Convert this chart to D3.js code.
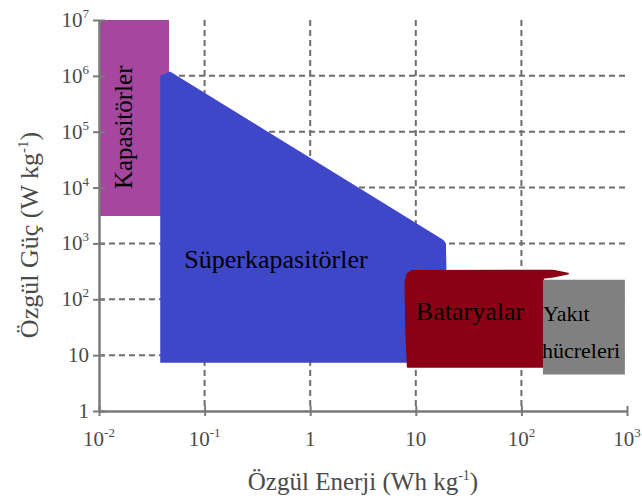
<!DOCTYPE html>
<html>
<head>
<meta charset="utf-8">
<script src="https://cdn.jsdelivr.net/npm/d3@7"></script>
<style>
  html, body { margin: 0; padding: 0; background: #fff; }
  svg { display: block; font-family: "Liberation Serif", "Times New Roman", serif; }
</style>
</head>
<body>
<svg id="chart" width="642" height="502"></svg>
<script>
// Ragone diagram: specific power vs specific energy (log-log)
const xTicks = [1e-2, 1e-1, 1, 1e1, 1e2, 1e3];
const xTickLabels = [["10", "-2"], ["10", "-1"], ["1", ""], ["10", ""], ["10", "2"], ["10", "3"]];
const yTicks = [1, 1e1, 1e2, 1e3, 1e4, 1e5, 1e6, 1e7];
const yTickLabels = [["1", ""], ["10", ""], ["10", "2"], ["10", "3"], ["10", "4"], ["10", "5"], ["10", "6"], ["10", "7"]];

// Regions as [energy Wh/kg, power W/kg] outlines
const capacitors = [[0.01, 3100], [0.01, 1e7], [0.046, 1e7], [0.046, 3100]];
const supercapacitors = [[0.038, 7.3], [0.038, 1.0e6], [0.047, 1.2e6], [18.3, 1150], [19.3, 1000], [19.5, 330], [12, 300], [12, 7.3]];
const batteries = [[8.4, 6.2], [8.1, 30], [8.0, 200], [8.3, 280], [9.2, 322], [200, 325], [276, 288], [200, 255], [160, 243], [160, 6.2]];
const fuelCells = [[160, 4.5], [160, 224], [955, 224], [955, 4.5]];

const regionNames = ["Kapasitörler", "Süperkapasitörler", "Bataryalar", "Yakıt", "hücreleri"];

const svg = d3.select("#chart");
const x = d3.scaleLog().domain([1e-2, 1e3]).range([99, 627]);
const y = d3.scaleLog().domain([1, 1e7]).range([411, 20]);

const line = d3.line().x(d => x(d[0])).y(d => y(d[1]));

// dashed grid
const grid = svg.append("g").attr("stroke", "#6e6e6e").attr("stroke-width", 2)
  .attr("stroke-dasharray", "6,4").attr("fill", "none");
grid.selectAll("line.h").data(yTicks.slice(1, -1)).join("line")
  .attr("x1", x(1e-2)).attr("x2", x(1e3))
  .attr("y1", d => y(d)).attr("y2", d => y(d));
grid.selectAll("line.v").data(xTicks.slice(1, -1)).join("line")
  .attr("y1", y(1e7)).attr("y2", y(1))
  .attr("x1", d => x(d)).attr("x2", d => x(d));

// regions
const regions = svg.append("g");
regions.append("path").datum(capacitors).attr("d", d => line(d) + "Z").attr("fill", "#a5479f");
regions.append("path").datum(supercapacitors).attr("d", d => line(d) + "Z").attr("fill", "#3f47c9");
regions.append("path").datum(batteries).attr("d", d => line(d) + "Z").attr("fill", "#8a0015")
  .attr("stroke", "#8a0015").attr("stroke-width", 2).attr("stroke-linejoin", "round");
regions.append("path").datum(fuelCells).attr("d", d => line(d) + "Z").attr("fill", "#808080");

// axes
const axisColor = "#7a7a7a";
const xAxis = svg.append("g").attr("transform", `translate(0,${y(1)})`)
  .call(d3.axisBottom(x).tickValues(xTicks).tickSizeInner(5).tickSizeOuter(0).tickFormat(""));
const yAxis = svg.append("g").attr("transform", `translate(${x(1e-2)},0)`)
  .call(d3.axisLeft(y).tickValues(yTicks).tickSizeInner(6).tickSizeOuter(0).tickFormat(""));
[xAxis, yAxis].forEach(a => {
  a.select(".domain").attr("stroke", axisColor).attr("stroke-width", 2.5);
  a.selectAll(".tick line").attr("stroke", axisColor).attr("stroke-width", 2);
});
// ticks cross the axis line
xAxis.selectAll(".tick line").attr("y1", -5).attr("y2", 5);
yAxis.selectAll(".tick line").attr("x1", -6).attr("x2", 6);

// tick labels with superscript exponents
function supLabel(sel, base, exp) {
  sel.append("tspan").text(base);
  if (exp) sel.append("tspan").attr("dy", -9).attr("font-size", 13).text(exp);
}
svg.append("g").selectAll("text").data(xTicks).join("text")
  .attr("x", d => x(d)).attr("y", 446)
  .attr("text-anchor", "middle").attr("font-size", 21).attr("fill", "#4a4a4a")
  .each(function (d, i) { supLabel(d3.select(this), xTickLabels[i][0], xTickLabels[i][1]); });
svg.append("g").selectAll("text").data(yTicks).join("text")
  .attr("x", 89).attr("y", d => y(d) + 7)
  .attr("text-anchor", "end").attr("font-size", 21).attr("fill", "#4a4a4a")
  .each(function (d, i) { supLabel(d3.select(this), yTickLabels[i][0], yTickLabels[i][1]); });

// axis titles
const xt = svg.append("text").attr("x", 363).attr("y", 490).attr("text-anchor", "middle")
  .attr("font-size", 25).attr("fill", "#4a4a4a");
xt.append("tspan").text("Özgül Enerji (Wh kg");
xt.append("tspan").attr("dy", -10).attr("font-size", 14).text("-1");
xt.append("tspan").attr("dy", 10).text(")");

const yt = svg.append("text").attr("transform", "translate(38,235) rotate(-90)").attr("text-anchor", "middle")
  .attr("font-size", 26).attr("fill", "#4a4a4a");
yt.append("tspan").text("Özgül Güç (W kg");
yt.append("tspan").attr("dy", -10).attr("font-size", 15).text("-1");
yt.append("tspan").attr("dy", 10).text(")");

// region labels
svg.append("text").attr("transform", `translate(132,${y(1.2e5)}) rotate(-90)`)
  .attr("text-anchor", "middle").attr("font-size", 25).attr("fill", "#000").text(regionNames[0]);
svg.append("text").attr("x", 276).attr("y", 268).attr("text-anchor", "middle")
  .attr("font-size", 26).attr("fill", "#000").text(regionNames[1]);
svg.append("text").attr("x", 470).attr("y", 320).attr("text-anchor", "middle")
  .attr("font-size", 26).attr("fill", "#000").text(regionNames[2]);
svg.append("text").attr("x", 543).attr("y", 321).attr("text-anchor", "start")
  .attr("font-size", 22).attr("fill", "#000").text(regionNames[3]);
svg.append("text").attr("x", 542).attr("y", 358).attr("text-anchor", "start")
  .attr("font-size", 22).attr("fill", "#000").text(regionNames[4]);
</script>
</body>
</html>
